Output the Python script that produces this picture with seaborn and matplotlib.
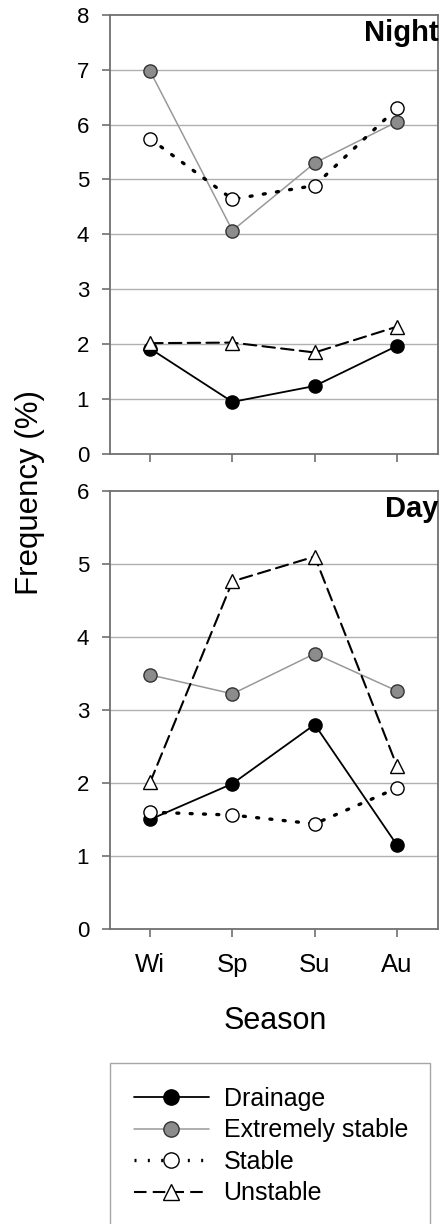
import matplotlib
matplotlib.use("Agg")
import matplotlib.pyplot as plt
import seaborn as sns
from matplotlib.lines import Line2D

seasons = ["Wi", "Sp", "Su", "Au"]

night_drainage = [1.92, 0.95, 1.24, 1.97]
night_ext_stable = [6.97, 4.07, 5.30, 6.05]
night_stable = [5.74, 4.64, 4.89, 6.30]
night_unstable = [2.02, 2.03, 1.85, 2.32]

day_drainage = [1.50, 1.99, 2.80, 1.15]
day_ext_stable = [3.48, 3.22, 3.77, 3.26]
day_stable = [1.60, 1.56, 1.44, 1.93]
day_unstable = [2.01, 4.76, 5.10, 2.23]

sns.set_style("white")
plt.rcParams["font.family"] = ["Liberation Sans", "DejaVu Sans"]
plt.rcParams["text.color"] = "black"
plt.rcParams["xtick.color"] = "black"
plt.rcParams["ytick.color"] = "black"

styles = {
    "Drainage": dict(color="black", lw=1.3, ls="-", marker="o", mfc="black", mec="black"),
    "Extremely stable": dict(color="#999999", lw=1.1, ls="-", marker="o", mfc="#8c8c8c", mec="#333333"),
    "Stable": dict(color="black", lw=2.4, ls=(0, (0.6, 3.4)), marker="o", mfc="white", mec="black"),
    "Unstable": dict(color="black", lw=1.5, ls=(0, (6, 3)), marker="^", mfc="white", mec="black"),
}

fig = plt.figure(figsize=(4.43, 12.24), dpi=100)
ax1 = fig.add_axes([0.248, 0.629, 0.741, 0.359])
ax2 = fig.add_axes([0.248, 0.241, 0.741, 0.358])

panels = [
    (ax1, [night_drainage, night_ext_stable, night_stable, night_unstable], 8, "Night"),
    (ax2, [day_drainage, day_ext_stable, day_stable, day_unstable], 6, "Day"),
]

for ax, series, ymax, title in panels:
    for (name, st), vals in zip(styles.items(), series):
        ms = 10.5 if st["marker"] == "^" else 9.5
        sns.lineplot(x=seasons, y=vals, ax=ax, color=st["color"], linewidth=st["lw"],
                     linestyle=st["ls"], marker=st["marker"], markersize=ms,
                     markerfacecolor=st["mfc"], markeredgecolor=st["mec"],
                     markeredgewidth=1.0, sort=False, zorder=3,
                     dash_capstyle="round")
    ax.set_xlim(-0.49, 3.5)
    ax.set_ylim(0, ymax)
    ax.set_yticks(range(0, ymax + 1))
    for y in range(1, ymax):
        ax.axhline(y, color="#b0b0b0", lw=1.0, zorder=1)
    for sp in ax.spines.values():
        sp.set_color("#707070")
        sp.set_linewidth(1.3)
    ax.tick_params(axis="both", direction="out", length=6, width=1.2, color="#707070",
                   labelsize=16, pad=9, bottom=True, left=True, labelcolor="black")
    ax.set_xlabel("")
    ax.set_ylabel("")
    ax.text(1.0, 0.99, title, transform=ax.transAxes, ha="right", va="top",
            fontsize=21, fontweight="bold")

ax1.set_xticks(range(4))
ax1.set_xticklabels([])
ax2.set_xticks(range(4))
ax2.set_xticklabels(seasons)
ax2.tick_params(axis="x", pad=11, labelsize=18.5)

fig.text(0.068, 0.598, "Frequency (%)", rotation=90, ha="center", va="center", fontsize=22.5)
fig.text(0.621, 0.1655, "Season", ha="center", va="center", fontsize=22)

handles = []
for name, st in styles.items():
    handles.append(Line2D([0], [0], color=st["color"], lw=st["lw"], ls=st["ls"],
                          marker=st["marker"], markersize=11.5 if st["marker"] == "^" else 11,
                          mfc=st["mfc"], mec=st["mec"], mew=1.0))
leg = fig.legend(handles, list(styles.keys()), loc="upper left", mode="expand",
                 bbox_to_anchor=(0.248, 0.0, 0.723, 0.1315), fontsize=18, frameon=True,
                 fancybox=False, edgecolor="#909090", handlelength=3.0,
                 borderpad=0.95, labelspacing=0.3, handletextpad=0.6, borderaxespad=0)
leg.get_frame().set_linewidth(1.0)

fig.savefig("out.png", dpi=100)
